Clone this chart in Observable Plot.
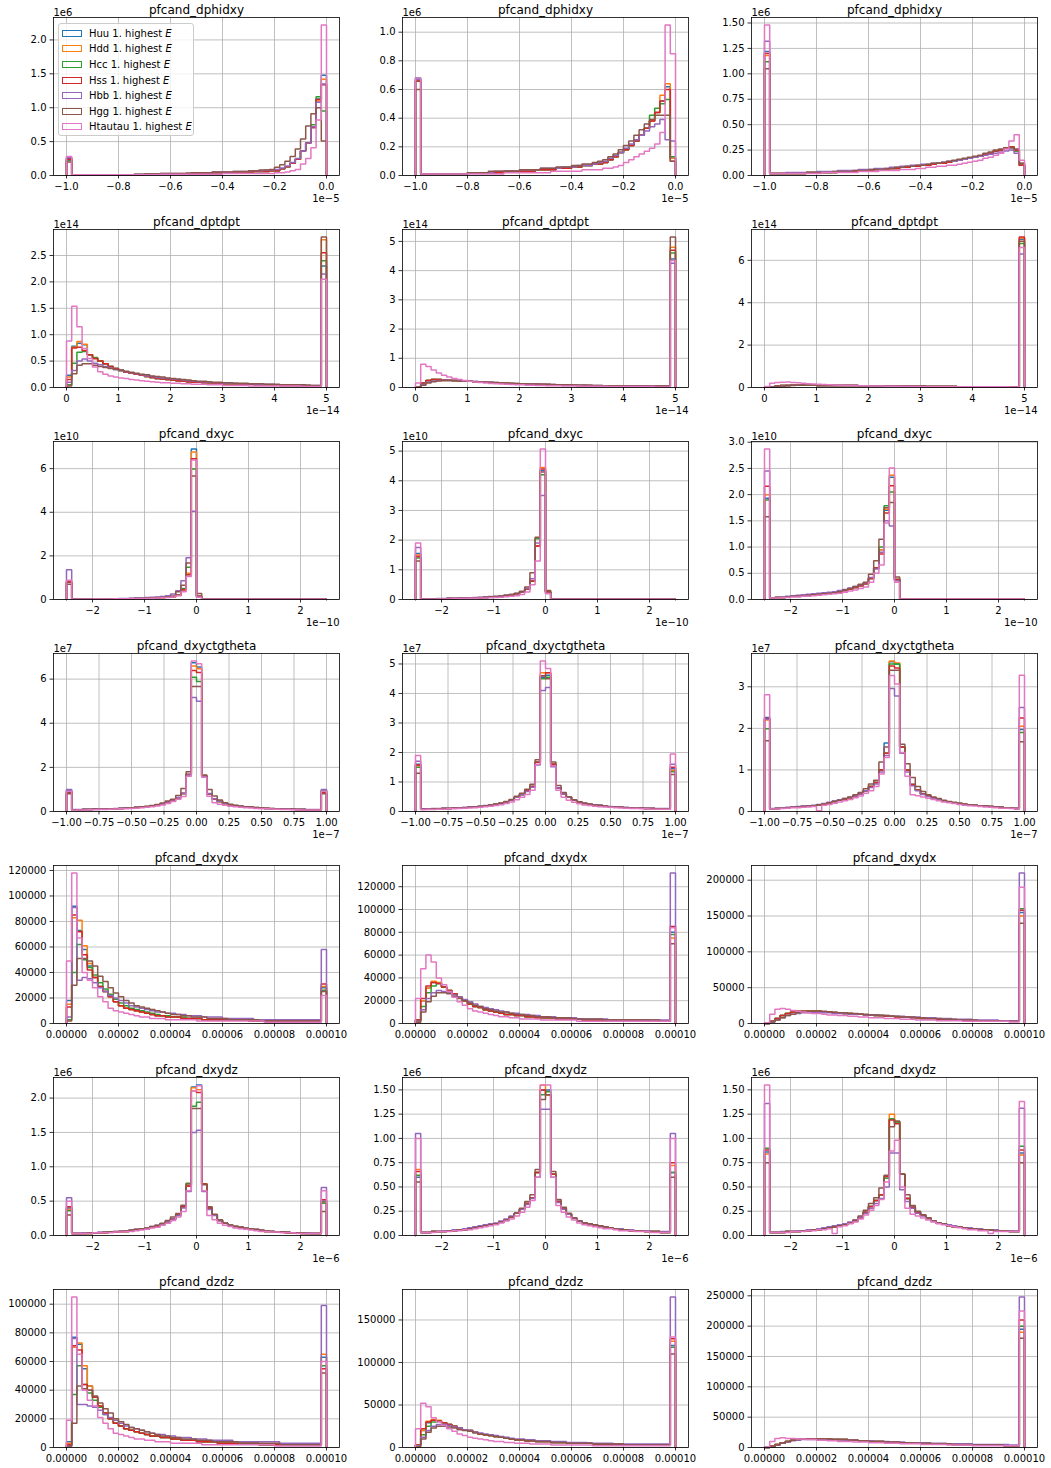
<!DOCTYPE html>
<html><head><meta charset="utf-8">
<script src="https://cdn.jsdelivr.net/npm/d3@7"></script>
<script src="https://cdn.jsdelivr.net/npm/@observablehq/plot@0.6"></script>
<style>
body{margin:0;background:#fff;}
#fig{position:relative;width:1051px;height:1468px;font-family:"DejaVu Sans",sans-serif;background:#fff;overflow:hidden;}
.panel{position:absolute;}
#legend{position:absolute;left:58px;top:23px;width:136px;height:113px;border:1px solid #cccccc;border-radius:3px;background:rgba(255,255,255,0.8);font-size:10px;box-sizing:border-box;color:#000;}
.li{position:absolute;left:3px;height:14px;display:flex;align-items:center;white-space:nowrap;}
.sw{width:20px;height:7px;box-sizing:border-box;border-width:1.6px;border-style:solid;margin-right:7px;}
</style></head>
<body><div id="fig"></div>
<script>
const seriesNames = ["Huu","Hdd","Hcc","Hss","Hbb","Hgg","Htautau"];
const colors = ["#1f77b4","#ff7f0e","#2ca02c","#d62728","#9467bd","#8c564b","#e377c2"];
const rowTitles = ["pfcand_dphidxy","pfcand_dptdpt","pfcand_dxyc","pfcand_dxyctgtheta","pfcand_dxydx","pfcand_dxydz","pfcand_dzdz"];
const rowX = [[-1,0],[0,5],[-2.5,2.5],[-1,1],[0,1e-4],[-2.5,2.5],[0,1e-4]];
const rowXTicks = [[-1,-0.8,-0.6,-0.4,-0.2,0],[0,1,2,3,4,5],[-2,-1,0,1,2],[-1,-0.75,-0.5,-0.25,0,0.25,0.5,0.75,1],[0,2e-5,4e-5,6e-5,8e-5,1e-4],[-2,-1,0,1,2],[0,2e-5,4e-5,6e-5,8e-5,1e-4]];
const rowXFmt = [".1f","d","d",".2f",".5f","d",".5f"];
const rowXOff = ["1e\u22125","1e\u221214","1e\u221210","1e\u22127","","1e\u22126",""];
const rowYOff = ["1e6","1e14","1e10","1e7","","1e6",""];
const rowYUnit = [0.01,0.01,0.01,0.01,1000,0.01,1000];
const yTickSets = [
 [[0,0.5,1,1.5,2],[0,0.2,0.4,0.6,0.8,1],[0,0.25,0.5,0.75,1,1.25,1.5]],
 [[0,0.5,1,1.5,2,2.5],[0,1,2,3,4,5],[0,2,4,6]],
 [[0,2,4,6],[0,1,2,3,4,5],[0,0.5,1,1.5,2,2.5,3]],
 [[0,2,4,6],[0,1,2,3,4,5],[0,1,2,3]],
 [[0,20000,40000,60000,80000,100000,120000],[0,20000,40000,60000,80000,100000,120000],[0,50000,100000,150000,200000]],
 [[0,0.5,1,1.5,2],[0,0.25,0.5,0.75,1,1.25,1.5],[0,0.25,0.5,0.75,1,1.25,1.5]],
 [[0,20000,40000,60000,80000,100000],[0,50000,100000,150000],[0,50000,100000,150000,200000,250000]]
];
const yFmts = [[".1f",".1f",".2f"],[".1f","d","d"],["d","d",".1f"],["d","d","d"],["d","d","d"],[".1f",".2f",".2f"],["d","d","d"]];

function mod(base, changes){ const a = base.slice(); for (const [i,v] of changes) a[i]=v; return a; }
const ones24 = [1,1,1,1,1,1,1,1,1,1,1,1,1,1,1,1,1,1,1,1,1,1,1,1];

// ---- pfcand_dphidxy ----
const dphidxy1_q  = [25,1,1,1,1,1,1,1,1,1, 1,1,1,1,1,2,2,2,2,2, 2,2,2,3,3,3,3,3,4,4, 4,4,5,5,5,5,6,6,6,7, 7,10,13,18,24,36,48,71,113,148];
const dphidxy1_bb = [27,1,1,1,1,1,1,1,1,1, 1,1,1,2,2,2,2,2,3,3, 3,3,3,3,4,4,4,4,5,5, 5,5,6,6,6,7,7,7,8,8, 9,11,14,19,25,36,48,72,108,135];
const dphidxy1_gg = [20,1,1,1,1,1,1,1,1,1, 1,1,1,2,2,2,2,2,3,3, 3,3,3,3,4,4,4,4,5,5, 5,5,6,6,6,7,7,8,8,9, 12,16,21,28,39,54,73,91,100,51];
const dphidxy1_tt = [28,1,1,1,1,1,1,1,1,1, 1,1,1,1,1,1,1,1,2,2, 2,2,2,2,2,2,2,2,2,2, 3,3,3,3,3,3,3,3,3,3, 4,4,5,7,9,17,25,41,82,222];
const dphidxy1 = [dphidxy1_q, mod(dphidxy1_q,[[0,23],[48,110],[49,142]]), mod(dphidxy1_q,[[0,22],[47,75],[48,116],[49,95]]), mod(dphidxy1_q,[[0,24],[48,112],[49,134]]), dphidxy1_bb, dphidxy1_gg, dphidxy1_tt];

const dphidxy2_q  = [66,1,1,1,1,1,1,1,1,1, 2,2,2,2,2,2,2,3,3,3, 3,3,3,4,4,4,4,5,5,5, 6,6,7,7,8,8,9,11,13,16, 18,21,24,28,33,38,44,52,62,12];
const dphidxy2_bb = [67,1,1,1,1,1,1,1,1,1, 2,2,2,2,2,3,3,3,3,3, 4,4,4,4,5,5,5,5,6,6, 6,7,7,7,8,9,10,12,14,16, 19,22,25,28,31,34,36,39,25,24];
const dphidxy2_gg = [60,1,1,1,1,1,1,1,1,1, 2,2,2,2,3,3,3,3,3,3, 4,4,4,4,5,5,5,6,6,6, 7,7,8,8,9,10,11,13,15,18, 21,24,28,32,36,39,42,42,42,10];
const dphidxy2_tt = [68,1,1,1,1,1,1,1,1,1, 1,1,1,1,1,1,1,2,2,2, 2,2,2,2,2,2,3,3,3,3, 3,3,4,4,4,4,5,5,6,7, 9,11,13,15,17,19,22,30,105,85];
const dphidxy2 = [mod(dphidxy2_q,[[0,68]]), mod(dphidxy2_q,[[47,56],[48,64]]), mod(dphidxy2_q,[[45,42],[46,47],[47,50],[48,53],[49,13]]), mod(dphidxy2_q,[[48,60],[49,10]]), dphidxy2_bb, dphidxy2_gg, dphidxy2_tt];

const dphidxy3_q  = [122,2,2,2,2,2,2,2,3,3, 3,3,3,3,4,4,4,4,5,5, 5,6,6,6,7,7,8,8,9,9, 10,10,11,12,12,13,14,15,16,17, 18,19,21,22,24,25,27,28,24,10];
const dphidxy3_bb = [132,2,2,2,3,3,3,3,3,3, 4,4,4,4,5,5,5,5,6,6, 6,7,7,7,8,8,9,9,10,10, 11,11,12,12,13,14,14,15,16,17, 18,19,20,21,22,23,24,25,22,12];
const dphidxy3_gg = [105,2,2,2,2,2,2,2,3,3, 3,3,3,4,4,4,4,5,5,5, 6,6,6,7,7,8,8,9,9,10, 10,11,12,12,13,14,15,16,17,18, 19,20,22,23,25,26,27,27,26,12];
const dphidxy3_tt = [148,2,2,2,2,2,2,2,2,2, 2,3,3,3,3,3,3,3,4,4, 4,4,5,5,5,5,6,6,6,7, 7,8,8,9,9,10,10,11,12,13, 14,15,17,18,20,22,26,34,40,15];
const dphidxy3 = [dphidxy3_q, mod(dphidxy3_q,[[0,118]]), mod(dphidxy3_q,[[0,112]]), mod(dphidxy3_q,[[0,120],[48,25]]), dphidxy3_bb, dphidxy3_gg, dphidxy3_tt];

// ---- pfcand_dptdpt ----
const dptdpt1_q  = [23,78,84,81,62,55,50,45,40,36, 32,29,27,25,23,21,19,17,16,15, 14,13,12,11,10,10,9,9,8,8, 7,7,7,6,6,6,5,5,5,5, 5,4,4,4,4,4,4,3,3,230];
const dptdpt1_bb = [10,32,50,54,50,46,43,40,37,34, 32,30,28,26,24,22,21,19,18,17, 16,15,14,13,12,11,11,10,9,9, 8,8,8,7,7,7,6,6,6,6, 5,5,5,5,5,4,4,4,4,215];
const dptdpt1_gg = [3,26,42,45,45,42,40,38,36,34, 33,31,29,27,25,24,22,21,20,18, 17,16,15,14,13,12,12,11,10,10, 9,9,8,8,8,7,7,7,6,6, 6,5,5,5,5,5,4,4,4,285];
const dptdpt1_tt = [88,154,115,74,55,39,30,25,22,20, 18,17,15,14,13,12,11,10,9,9, 8,8,7,7,6,6,6,5,5,5, 4,4,4,4,4,3,3,3,3,3, 3,3,3,3,3,2,2,2,2,205];
const dptdpt1 = [dptdpt1_q, mod(dptdpt1_q,[[0,20],[1,76],[2,87],[3,82],[49,280]]), mod(dptdpt1_q,[[0,5],[1,46],[2,67],[3,68],[4,62],[5,57],[49,240]]), mod(dptdpt1_q,[[0,15],[1,75],[2,76],[3,70],[49,255]]), dptdpt1_bb, dptdpt1_gg, dptdpt1_tt];

const dptdpt2_q  = [2,15,24,27,27,26,25,24,23,22, 21,20,19,18,17,16,15,14,14,13, 12,12,11,11,10,10,9,9,8,8, 8,7,7,7,6,6,6,6,5,5, 5,5,5,5,4,4,4,4,4,450];
const dptdpt2_bb = [1,10,18,22,24,25,25,24,24,23, 22,21,20,19,18,17,16,15,14,14, 13,12,12,11,11,10,10,9,9,9, 8,8,8,7,7,7,6,6,6,6, 5,5,5,5,5,5,4,4,4,425];
const dptdpt2_gg = [1,8,15,20,22,23,23,23,22,22, 21,20,19,18,17,17,16,15,14,14, 13,12,12,11,11,10,10,9,9,9, 8,8,8,7,7,7,6,6,6,6, 5,5,5,5,5,4,4,4,4,515];
const dptdpt2_tt = [15,80,72,60,50,42,36,31,27,24, 21,19,17,15,14,13,12,11,10,9, 9,8,8,7,7,6,6,6,5,5, 5,5,4,4,4,4,4,3,3,3, 3,3,3,3,3,3,2,2,2,435];
const dptdpt2 = [mod(dptdpt2_q,[[49,440]]), mod(dptdpt2_q,[[49,480]]), mod(dptdpt2_q,[[49,460]]), mod(dptdpt2_q,[[49,470]]), dptdpt2_bb, dptdpt2_gg, dptdpt2_tt];

const dptdpt3_q  = [1,4,7,9,10,11,11,11,11,11, 10,10,10,10,9,9,9,9,8,8, 8,8,7,7,7,7,6,6,6,6, 6,5,5,5,5,5,5,4,4,4, 4,4,4,4,4,4,3,3,3,700];
const dptdpt3_bb = [1,3,5,8,10,11,11,11,11,11, 10,10,10,10,9,9,9,9,8,8, 8,8,7,7,7,7,6,6,6,6, 6,5,5,5,5,5,5,4,4,4, 4,4,4,4,4,4,3,3,3,630];
const dptdpt3_gg = [1,2,4,6,9,10,11,11,11,11, 10,10,10,10,9,9,9,9,8,8, 8,8,7,7,7,7,6,6,6,6, 6,5,5,5,5,5,5,4,4,4, 4,4,4,4,4,4,3,3,3,690];
const dptdpt3_tt = [5,20,24,25,26,24,22,20,18,16, 15,14,13,12,11,10,10,9,8,8, 7,7,7,6,6,6,5,5,5,5, 4,4,4,4,4,4,3,3,3,3, 3,3,3,3,3,3,3,2,2,660];
const dptdpt3 = [dptdpt3_q, mod(dptdpt3_q,[[49,705]]), mod(dptdpt3_q,[[49,680]]), mod(dptdpt3_q,[[49,710]]), dptdpt3_bb, dptdpt3_gg, dptdpt3_tt];

// ---- pfcand_dxyc ----
const dxyc1_q  = [80,1,1,1,2,2,2,2,3,3, 3,4,4,5,5,6,7,8,9,10, 13,20,45,115,690,15].concat(ones24);
const dxyc1_bb = [136,1,1,2,2,2,3,3,4,4, 5,5,6,7,8,9,10,12,14,17, 25,40,86,191,405,12].concat(ones24);
const dxyc1_gg = [70,1,1,1,2,2,2,3,3,3, 4,4,5,5,6,7,8,9,10,12, 16,35,65,167,566,28].concat(ones24);
const dxyc1_tt = [88,1,1,1,1,2,2,2,2,3, 3,3,4,4,5,5,6,7,8,9, 11,17,35,105,640,10].concat(ones24);
const dxyc1 = [dxyc1_q, mod(dxyc1_q,[[24,676],[23,120]]), mod(dxyc1_q,[[24,598],[23,148],[22,50]]), mod(dxyc1_q,[[24,645],[23,113]]), dxyc1_bb, dxyc1_gg, dxyc1_tt];

const dxyc2_q  = [155,1,1,2,2,2,3,3,4,4, 5,5,6,7,8,9,10,12,15,19, 25,35,62,180,440,25].concat(ones24);
const dxyc2_bb = [175,1,2,2,3,3,4,4,5,5, 6,7,8,9,10,11,13,15,17,20, 26,38,70,190,350,20].concat(ones24);
const dxyc2_gg = [130,1,1,2,2,2,3,3,4,4, 5,6,7,8,9,10,12,14,17,21, 28,42,90,210,430,30].concat(ones24);
const dxyc2_tt = [190,1,1,1,2,2,2,3,3,3, 4,4,5,5,6,7,8,9,11,13, 17,25,50,130,507,20].concat(ones24);
const dxyc2 = [mod(dxyc2_q,[[24,435]]), mod(dxyc2_q,[[24,445],[0,150]]), mod(dxyc2_q,[[24,420],[23,205],[0,140]]), mod(dxyc2_q,[[24,440],[23,180],[0,145]]), dxyc2_bb, dxyc2_gg, dxyc2_tt];

const dxyc3_q  = [193,3,4,4,5,6,6,7,8,9, 10,11,12,13,14,17,20,23,26,30, 40,60,95,170,233,38].concat(ones24);
const dxyc3_bb = [245,3,4,5,6,7,8,9,10,11, 12,13,14,15,17,19,22,25,28,32, 42,58,90,150,140,36].concat(ones24);
const dxyc3_gg = [158,3,4,4,5,6,6,7,8,9, 10,11,12,13,15,18,21,25,29,33, 48,74,115,175,185,43].concat(ones24);
const dxyc3_tt = [287,3,3,4,4,5,5,6,6,7, 8,9,10,11,12,14,16,18,21,24, 33,50,66,146,251,33].concat(ones24);
const dxyc3 = [dxyc3_q, mod(dxyc3_q,[[0,200],[24,237],[23,172]]), mod(dxyc3_q,[[0,190],[24,205],[23,179],[22,100]]), mod(dxyc3_q,[[0,216],[24,217],[23,165],[22,87]]), dxyc3_bb, dxyc3_gg, dxyc3_tt];

// ---- pfcand_dxyctgtheta ----
const dxyctg1_q  = [95,8,8,9,9,10,10,11,12,13, 14,15,16,18,20,22,25,29,34,42, 52,62,82,168,674,655,160,80,57,45, 36,30,26,23,21,19,17,15,14,13, 12,11,10,10,9,9,8,8,8,95];
const dxyctg1_bb = [100,9,9,10,10,11,11,12,13,14, 15,16,17,19,21,23,26,30,35,43, 53,63,83,165,517,500,158,82,58,46, 37,31,27,24,22,20,18,16,15,14, 13,12,11,11,10,10,9,9,9,100];
const dxyctg1_gg = [80,8,8,9,9,10,10,11,12,13, 14,15,17,19,21,24,27,32,38,48, 55,72,104,180,567,567,165,100,70,52, 40,33,28,25,22,20,18,16,15,14, 12,11,10,10,9,9,8,8,8,80];
const dxyctg1_tt = [92,6,7,7,8,8,9,9,10,11, 12,13,14,15,17,19,21,25,29,36, 45,55,68,160,682,670,155,69,40,33, 28,24,21,19,17,16,14,13,12,11, 10,9,9,8,8,7,7,7,7,92];
const dxyctg1 = [dxyctg1_q, mod(dxyctg1_q,[[24,660],[25,647],[0,90],[49,90]]), mod(dxyctg1_q,[[24,609],[25,589],[0,85]]), mod(dxyctg1_q,[[24,639],[25,630],[0,88],[49,85]]), dxyctg1_bb, dxyctg1_gg, dxyctg1_tt];

const dxyctg2_q  = [160,8,8,9,9,10,10,11,12,13, 14,15,17,19,21,24,27,32,38,48, 58,70,85,167,455,462,160,80,60,48, 38,32,27,24,22,20,18,16,15,14, 13,12,11,11,10,10,9,9,9,145];
const dxyctg2_bb = [170,9,9,10,10,11,11,12,13,14, 15,16,18,20,22,25,28,33,39,48, 57,68,82,158,410,420,152,80,60,48, 39,33,28,25,23,21,19,17,16,15, 14,13,12,12,11,11,10,10,10,160];
const dxyctg2_gg = [130,8,8,9,9,10,10,11,12,13, 14,15,17,19,22,25,29,34,41,52, 62,75,92,175,460,450,168,88,64,50, 40,33,28,25,22,20,18,16,15,14, 13,12,11,11,10,10,9,9,9,125];
const dxyctg2_tt = [190,6,7,7,8,8,9,9,10,11, 12,13,14,16,18,20,23,27,32,40, 48,58,72,160,510,485,155,72,48,38, 31,26,22,20,18,16,15,14,13,12, 11,10,10,9,9,8,8,8,8,195];
const dxyctg2 = [dxyctg2_q, mod(dxyctg2_q,[[24,470],[25,470],[0,155],[49,140]]), mod(dxyctg2_q,[[24,450],[25,455],[0,150],[49,135]]), mod(dxyctg2_q,[[24,460],[25,470],[0,158],[49,150]]), dxyctg2_bb, dxyctg2_gg, dxyctg2_tt];

const dxyctg3_q  = [226,6,7,8,9,10,11,12,13,14, 16,18,21,24,27,30,33,38,42,50, 60,70,100,140,360,355,155,100,65,52, 42,37,33,30,26,23,21,19,17,16, 15,14,13,12,11,10,9,8,7,197];
const dxyctg3_bb = [222,7,8,9,10,11,12,13,14,15, 17,19,22,25,28,31,34,38,42,50, 58,66,95,135,296,278,140,95,62,50, 41,36,32,29,26,23,21,19,17,16, 15,14,13,12,11,10,9,8,7,250];
const dxyctg3_gg = [170,6,7,8,9,10,11,12,13,14, 16,18,21,24,27,31,35,40,46,55, 66,75,119,155,340,340,162,115,82,60, 48,40,35,31,27,24,22,20,18,16, 15,14,13,12,11,10,9,8,7,168];
const dxyctg3_tt = [281,6,6,7,8,9,9,10,11,12, 2,15,17,20,23,26,29,33,37,44, 50,60,90,130,327,307,142,85,40,38, 35,32,29,26,23,21,19,17,15,14, 13,12,11,10,9,8,8,7,6,328];
const dxyctg3 = [mod(dxyctg3_q,[[23,165]]), mod(dxyctg3_q,[[24,362],[25,357],[0,220],[49,205]]), mod(dxyctg3_q,[[24,355],[25,355],[0,199],[49,190]]), mod(dxyctg3_q,[[24,350],[25,345],[0,224],[49,225]]), dxyctg3_bb, dxyctg3_gg, dxyctg3_tt];

// ---- pfcand_dxydx (values in thousands) ----
const dxydx1_uu = [18,92,73,58,45,36,29,25,21,17, 14,12,11,10,9,8,7,6,6,5, 5,5,4,4,4,4,3,3,3,3, 3,3,3,3,3,2,2,2,2,2, 2,2,2,2,2,2,2,2,2,28];
const dxydx1_cc = [3,40,62,50,44,38,32,27,23,19, 16,14,12,11,10,9,8,7,6,6, 5,5,5,4,4,4,3,3,3,3, 3,3,3,3,3,2,2,2,2,2, 2,2,2,2,2,2,2,2,2,26];
const dxydx1_bb = [5,91,34,36,35,32,28,25,22,20, 18,16,14,13,12,11,10,9,9,8, 8,7,7,6,6,6,5,5,5,5, 4,4,4,4,4,4,3,3,3,3, 3,3,3,3,3,3,3,3,3,58];
const dxydx1_gg = [2,30,51,51,49,45,37,33,28,24, 21,18,16,14,13,12,11,10,9,8, 7,7,6,6,5,5,5,4,4,4, 4,3,3,3,3,3,3,2,2,2, 2,2,2,2,2,2,2,2,2,25];
const dxydx1_tt = [49,118,67,40,34,28,21,17,12,10, 9,8,7,6,5,5,4,4,4,3, 3,3,3,3,3,2,2,2,2,2, 2,2,2,2,2,2,2,2,1,1, 1,1,1,1,1,1,1,1,1,22];
const dxydx1 = [dxydx1_uu, mod(dxydx1_uu,[[0,15],[1,83],[2,81],[3,61],[4,47],[49,29]]), dxydx1_cc, mod(dxydx1_uu,[[0,13],[1,85],[2,72],[3,54],[4,42],[49,31]]), dxydx1_bb, dxydx1_gg, dxydx1_tt];

const dxydx2_q  = [3,20,31,36,35,32,29,26,23,20, 17,15,14,12,11,10,9,8,8,7, 7,6,6,5,5,5,5,4,4,4, 4,4,3,3,3,3,3,3,3,3, 3,3,3,3,3,2,2,2,2,80];
const dxydx2_bb = [2,12,22,27,29,28,27,25,23,21, 19,17,15,14,13,12,11,10,9,9, 8,8,7,7,6,6,6,5,5,5, 5,4,4,4,4,4,4,3,3,3, 3,3,3,3,3,3,3,3,3,132];
const dxydx2_gg = [1,10,19,24,27,27,26,24,22,20, 18,16,15,13,12,11,10,10,9,8, 8,7,7,6,6,6,5,5,5,5, 4,4,4,4,4,4,3,3,3,3, 3,3,3,3,3,3,3,2,2,70];
const dxydx2_tt = [22,48,60,54,40,34,28,23,19,16, 13,11,10,9,8,7,6,6,5,5, 4,4,4,4,3,3,3,3,3,3, 3,2,2,2,2,2,2,2,2,2, 2,2,2,2,2,2,2,2,2,84];
const dxydx2 = [dxydx2_q, mod(dxydx2_q,[[3,37],[4,36],[49,75]]), mod(dxydx2_q,[[1,15],[2,27],[3,33],[49,78]]), mod(dxydx2_q,[[1,22],[2,33],[49,85]]), dxydx2_bb, dxydx2_gg, dxydx2_tt];

const dxydx3_q  = [0,3,7,11,14,16,17,17,17,17, 17,16,16,15,15,14,14,13,13,12, 12,11,11,10,10,9,9,9,8,8, 7,7,7,6,6,6,5,5,5,5, 4,4,4,4,4,3,3,3,3,155];
const dxydx3_bb = [0,2,5,8,11,13,14,15,15,15, 15,15,15,14,14,14,13,13,13,12, 12,12,11,11,10,10,10,9,9,9, 8,8,8,7,7,7,6,6,6,6, 5,5,5,5,5,4,4,4,4,210];
const dxydx3_gg = [0,2,5,8,11,13,15,16,17,17, 17,17,16,16,15,15,14,14,13,13, 12,12,11,11,10,10,9,9,9,8, 8,7,7,7,6,6,6,5,5,5, 5,4,4,4,4,4,3,3,3,140];
const dxydx3_tt = [1,13,20,21,20,18,17,16,15,14, 14,13,12,12,11,11,10,10,9,9, 8,8,8,7,7,7,6,6,6,5, 5,5,5,4,4,4,4,4,3,3, 3,3,3,3,3,3,3,2,2,190];
const dxydx3 = [dxydx3_q, mod(dxydx3_q,[[49,150]]), mod(dxydx3_q,[[49,160]]), mod(dxydx3_q,[[49,158]]), dxydx3_bb, dxydx3_gg, dxydx3_tt];

// ---- pfcand_dxydz ----
const dxydz1_q  = [40,3,3,3,3,4,4,4,5,5, 6,6,7,8,9,10,12,14,17,20, 24,30,42,72,216,219,75,40,30,22, 18,15,13,12,10,9,8,7,6,6, 5,5,4,4,4,3,3,3,3,50];
const dxydz1_bb = [55,3,3,4,4,4,5,5,5,6, 6,7,8,9,10,11,13,15,17,20, 24,29,40,64,150,153,64,38,29,22, 18,15,13,12,11,10,9,8,7,6, 5,5,5,4,4,4,4,3,3,70];
const dxydz1_gg = [30,3,3,3,4,4,4,5,5,6, 6,7,8,9,10,11,13,15,18,22, 27,32,44,75,185,185,74,42,31,23, 18,15,13,12,11,10,9,8,7,6, 5,5,5,4,4,4,3,3,3,35];
const dxydz1_tt = [50,3,3,3,3,4,4,4,4,5, 5,6,6,7,8,9,11,12,15,18, 22,27,35,65,210,218,65,29,23,18, 15,13,11,10,9,8,7,6,6,5, 5,4,4,4,3,3,3,3,3,65];
const dxydz1 = [dxydz1_q, mod(dxydz1_q,[[24,215],[25,212],[0,38],[49,48]]), mod(dxydz1_q,[[24,188],[25,194],[23,76],[0,36],[49,47]]), mod(dxydz1_q,[[24,210],[25,208],[0,42],[49,52]]), dxydz1_bb, dxydz1_gg, dxydz1_tt];

const dxydz2_q  = [65,3,3,4,4,4,5,5,6,6, 7,8,9,10,11,12,14,16,19,23, 27,33,39,65,150,150,63,35,28,22, 18,15,13,12,11,10,9,8,7,6, 6,5,5,5,4,4,4,3,3,70];
const dxydz2_bb = [105,3,3,4,4,5,5,6,6,7, 8,9,10,11,12,13,15,17,20,23, 27,32,38,60,130,130,60,34,27,22, 18,15,13,12,11,10,9,8,7,7, 6,6,5,5,5,4,4,4,4,105];
const dxydz2_gg = [55,3,3,4,4,4,5,5,6,6, 7,8,9,10,11,12,14,16,19,23, 28,35,42,68,140,145,66,37,29,23, 18,15,13,12,11,10,9,8,7,6, 6,5,5,5,4,4,4,3,3,60];
const dxydz2_tt = [100,3,3,3,4,4,4,5,5,6, 6,7,8,9,10,11,13,15,17,20, 24,29,36,60,155,155,60,31,24,19, 16,13,11,10,9,8,7,7,6,5, 5,5,4,4,4,3,3,3,3,100];
const dxydz2 = [mod(dxydz2_q,[[0,60],[49,65]]), mod(dxydz2_q,[[24,155],[25,145],[0,68],[49,72]]), mod(dxydz2_q,[[24,145],[25,148],[0,62],[49,65]]), mod(dxydz2_q,[[25,145],[0,66],[49,75]]), dxydz2_bb, dxydz2_gg, dxydz2_tt];

const dxydz3_q  = [86,3,3,3,4,4,4,5,5,6, 6,7,8,9,10,11,13,15,18,24, 30,36,42,59,120,117,63,38,29,24, 21,18,15,13,12,10,9,9,8,7, 7,6,6,6,5,5,5,4,4,85];
const dxydz3_bb = [136,3,3,4,4,4,5,5,6,6, 7,8,9,10,11,12,14,16,19,23, 28,33,38,50,85,85,47,35,28,23, 20,17,15,13,12,11,10,9,8,8, 7,7,6,6,6,5,5,5,4,131];
const dxydz3_gg = [75,3,3,3,4,4,4,5,5,6, 6,7,8,9,10,11,13,16,20,26, 33,39,49,62,112,118,63,42,31,25, 21,18,15,13,12,10,9,9,8,7, 7,6,6,6,5,5,5,4,4,75];
const dxydz3_tt = [155,3,3,3,3,4,4,4,5,5, 6,6,7,2,9,10,12,14,17,21, 26,31,37,55,87,98,50,28,22,20, 18,16,14,12,11,10,9,8,7,6, 6,5,5,2,4,4,4,4,4,138];
const dxydz3 = [dxydz3_q, mod(dxydz3_q,[[24,125],[0,84],[49,83]]), mod(dxydz3_q,[[24,120],[25,117],[0,90],[49,92]]), mod(dxydz3_q,[[24,119],[25,115],[23,61],[0,88],[49,88]]), dxydz3_bb, dxydz3_gg, dxydz3_tt];

// ---- pfcand_dzdz (values in thousands) ----
const dzdz1_uu = [4,77,72,55,43,35,29,24,20,17, 15,13,12,11,10,9,8,8,7,7, 6,6,5,5,5,4,4,4,4,3, 3,3,3,3,3,3,3,2,2,2, 2,2,2,2,2,2,2,2,2,63];
const dzdz1_cc = [1,37,57,44,38,33,28,23,20,17, 15,13,12,11,10,9,8,8,7,7, 6,6,5,5,5,4,4,4,4,3, 3,3,3,3,3,3,3,2,2,2, 2,2,2,2,2,2,2,2,2,57];
const dzdz1_bb = [1,76,30,30,29,28,26,23,21,19, 17,15,14,13,12,11,10,9,9,8, 8,7,7,7,6,6,6,5,5,5, 5,5,4,4,4,4,4,4,4,4, 4,3,3,3,3,3,3,3,3,99];
const dzdz1_gg = [1,17,43,41,40,36,31,27,24,20, 18,16,14,13,12,11,10,9,8,8, 7,7,6,6,6,5,5,5,4,4, 4,4,4,3,3,3,3,3,3,3, 3,2,2,2,2,2,2,2,2,52];
const dzdz1_tt = [19,105,65,40,33,29,21,17,13,10, 9,8,7,6,6,5,5,4,4,4, 3,3,3,3,3,3,2,2,2,2, 2,2,2,2,2,2,2,2,2,2, 1,1,1,1,1,1,1,1,1,60];
const dzdz1 = [dzdz1_uu, mod(dzdz1_uu,[[0,3],[1,70],[2,73],[3,57],[49,65]]), dzdz1_cc, mod(dzdz1_uu,[[0,2],[1,71],[2,68],[3,44],[4,40],[49,55]]), dzdz1_bb, dzdz1_gg, dzdz1_tt];

const dzdz2_q  = [3,20,29,32,31,29,27,25,23,21, 20,18,16,15,14,13,12,11,10,9, 9,8,8,7,7,7,6,6,6,5, 5,5,5,5,4,4,4,4,4,4, 3,3,3,3,3,3,3,3,3,120];
const dzdz2_bb = [2,12,20,25,27,27,26,24,23,21, 20,18,17,16,15,14,13,12,11,10, 10,9,9,8,8,8,7,7,7,6, 6,6,6,5,5,5,5,5,4,4, 4,4,4,4,4,4,4,4,4,177];
const dzdz2_gg = [1,10,18,23,25,25,24,23,21,20, 19,17,16,15,14,13,12,11,10,9, 9,8,8,7,7,7,6,6,6,5, 5,5,5,5,4,4,4,4,4,4, 3,3,3,3,3,3,3,3,3,110];
const dzdz2_tt = [22,52,48,35,30,26,22,19,16,14, 12,11,10,9,8,7,7,6,6,5, 5,5,4,4,4,4,3,3,3,3, 3,3,3,3,2,2,2,2,2,2, 2,2,2,2,2,2,2,2,2,130];
const dzdz2 = [dzdz2_q, mod(dzdz2_q,[[2,31],[3,33],[4,32],[49,125]]), mod(dzdz2_q,[[1,15],[2,25],[3,30],[49,118]]), mod(dzdz2_q,[[1,22],[2,30],[49,128]]), dzdz2_bb, dzdz2_gg, dzdz2_tt];

const dzdz3_q  = [0,2,5,8,10,12,13,14,14,14, 14,14,14,13,13,13,12,12,11,11, 10,10,10,9,9,9,8,8,8,7, 7,7,6,6,6,6,5,5,5,5, 4,4,4,4,4,4,3,3,3,195];
const dzdz3_bb = [0,1,4,7,9,11,12,13,13,13, 13,13,13,13,13,12,12,12,11,11, 11,10,10,10,9,9,9,8,8,8, 8,7,7,7,7,6,6,6,6,6, 5,5,5,5,5,5,5,4,4,248];
const dzdz3_gg = [0,1,4,7,10,12,13,14,14,14, 14,14,14,13,13,13,12,12,11,11, 10,10,10,9,9,9,8,8,8,7, 7,7,6,6,6,6,5,5,5,5, 4,4,4,4,4,4,3,3,3,180];
const dzdz3_tt = [1,10,15,16,15,15,14,14,13,13, 12,12,11,11,10,10,10,9,9,9, 8,8,8,7,7,7,6,6,6,6, 5,5,5,5,5,4,4,4,4,4, 3,3,3,3,3,3,3,3,3,225];
const dzdz3 = [dzdz3_q, mod(dzdz3_q,[[49,190]]), mod(dzdz3_q,[[49,200]]), mod(dzdz3_q,[[49,210]]), dzdz3_bb, dzdz3_gg, dzdz3_tt];

const grid = [
  [dphidxy1, dphidxy2, dphidxy3],
  [dptdpt1, dptdpt2, dptdpt3],
  [dxyc1, dxyc2, dxyc3],
  [dxyctg1, dxyctg2, dxyctg3],
  [dxydx1, dxydx2, dxydx3],
  [dxydz1, dxydz2, dxydz3],
  [dzdz1, dzdz2, dzdz3]
];

grid.forEach((row,r)=>row.forEach((p,c)=>p.forEach((s,k)=>{ if (s.length!==50) throw new Error(`bad length r${r} c${c} s${k}: ${s.length}`); })));

const fig = document.getElementById("fig");
const gridStyle = {stroke:"#b0b0b0", strokeOpacity:1, strokeWidth:0.8};

grid.forEach((row, r) => row.forEach((ser, c) => {
  const unit = rowYUnit[r];
  const [lo, hi] = rowX[r];
  const bw = (hi - lo) / 50;
  const pad = (hi - lo) * 0.05;
  const lines = ser.map((vals, k) => {
    const pts = [{x: lo, y: 0}];
    vals.forEach((v, i) => { const y = v * unit; pts.push({x: lo + i*bw, y}, {x: lo + (i+1)*bw, y}); });
    pts.push({x: hi, y: 0});
    return Plot.line(pts, {x: "x", y: "y", stroke: colors[k], strokeWidth: 1.5, strokeLinejoin: "miter"});
  });
  const ymax = d3.max(ser.flat()) * unit * 1.05;
  const xt = rowXTicks[r], yt = yTickSets[r][c];
  const marks = [
    Plot.gridX(xt, gridStyle),
    Plot.gridY(yt, gridStyle),
    ...lines,
    Plot.frame({stroke: "black", strokeWidth: 0.8}),
    Plot.axisX(xt, {tickFormat: d3.format(rowXFmt[r]), tickSize: 3.5, tickPadding: 3.5, label: null, fontSize: 10, strokeWidth: 0.8}),
    Plot.axisY(yt, {tickFormat: d3.format(yFmts[r][c]), tickSize: 3.5, tickPadding: 3.5, label: null, fontSize: 10, strokeWidth: 0.8}),
    Plot.text([rowTitles[r]], {text: d => d, frameAnchor: "top", lineAnchor: "middle", dy: -7.5, fontSize: 12})
  ];
  if (rowYOff[r]) marks.push(Plot.text([rowYOff[r]], {text: d => d, frameAnchor: "top-left", textAnchor: "start", lineAnchor: "middle", dy: -5, fontSize: 10}));
  if (rowXOff[r]) marks.push(Plot.text([rowXOff[r]], {text: d => d, frameAnchor: "bottom-right", textAnchor: "end", lineAnchor: "middle", dy: 23.5, fontSize: 10}));
  const svg = Plot.plot({
    width: 349, height: 212,
    marginLeft: 53, marginRight: 10, marginTop: 17, marginBottom: 37,
    x: {domain: [lo - pad, hi + pad]},
    y: {domain: [0, ymax]},
    style: {fontFamily: "DejaVu Sans", fontSize: "10px", color: "black", background: "transparent", overflow: "visible"},
    marks
  });
  const div = document.createElement("div");
  div.className = "panel";
  div.style.left = (c * 349) + "px";
  div.style.top = (r * 212) + "px";
  div.appendChild(svg);
  fig.appendChild(div);
}));

// legend in the first panel
const leg = document.createElement("div");
leg.id = "legend";
seriesNames.forEach((n, i) => {
  const it = document.createElement("div");
  it.className = "li";
  it.style.top = (2.3 + 15.6 * i) + "px";
  const sw = document.createElement("span");
  sw.className = "sw"; sw.style.borderColor = colors[i];
  const tx = document.createElement("span");
  tx.innerHTML = n + " 1. highest <i>E</i>";
  it.appendChild(sw); it.appendChild(tx);
  leg.appendChild(it);
});
fig.appendChild(leg);
</script>
</body></html>
